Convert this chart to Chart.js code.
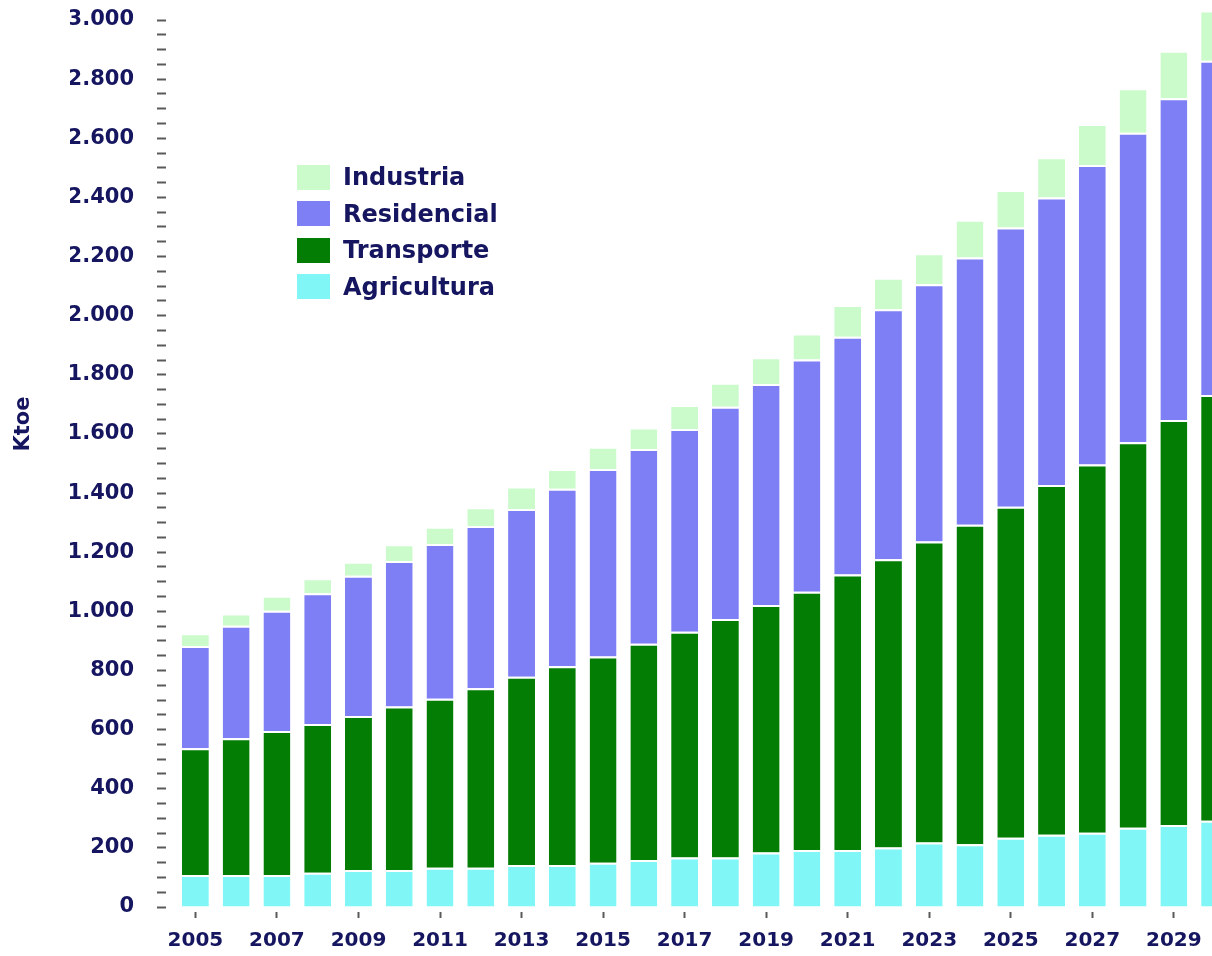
<!DOCTYPE html>
<html>
<head>
<meta charset="utf-8">
<script src="https://cdn.jsdelivr.net/npm/chart.js@4.4.1/dist/chart.umd.min.js"></script>
<style>
  html, body { margin: 0; padding: 0; background: #fff; overflow: hidden; }
  #wrap { position: relative; width: 1240px; height: 956px; }
  #legend { position: absolute; left: 297px; top: 159px; font: bold 24px "DejaVu Sans"; color: #151560; }
  #legend .item { height: 36.5px; display: flex; align-items: center; }
  #legend .box { width: 33px; height: 25px; margin-right: 13px; }
</style>
</head>
<body>
<div id="wrap">
  <canvas id="chart" width="1240" height="956"></canvas>
  <div id="legend"></div>
</div>
<script>
// data (Ktoe)
var years = [2005, 2006, 2007, 2008, 2009, 2010, 2011, 2012, 2013, 2014, 2015, 2016, 2017,
             2018, 2019, 2020, 2021, 2022, 2023, 2024, 2025, 2026, 2027, 2028, 2029, 2030];
var agricultura = [108, 108, 108, 116, 125, 125, 133, 133, 142, 142, 150, 159, 167,
                   167, 184, 193, 193, 201, 218, 212, 234, 244, 251, 268, 277, 292];
var transporte = [429, 463, 487, 503, 521, 553, 571, 607, 637, 672, 697, 731, 764,
                  807, 837, 873, 932, 975, 1018, 1081, 1120, 1183, 1246, 1304, 1370, 1440];
var residencial = [346, 380, 407, 442, 474, 492, 524, 549, 567, 601, 634, 659, 686,
                   718, 748, 786, 804, 846, 870, 904, 944, 973, 1013, 1047, 1088, 1130];
var industria = [43, 42, 51, 51, 48, 57, 58, 63, 76, 66, 76, 73, 81,
                 81, 90, 88, 107, 106, 105, 127, 127, 136, 138, 150, 161, 170];

var yMax = 3000;
var yLabelStep = 200;
var yMinorStep = 50;

var navy = '#151560';
var tickGray = '#5a5a5a';

function fmt(v) {
  return String(v).replace(/\B(?=(\d{3})+(?!\d))/g, '.');
}

var ktoeTitle = {
  id: 'ktoeTitle',
  afterDraw: function (chart) {
    var ctx = chart.ctx;
    ctx.save();
    ctx.translate(24, 424);
    ctx.rotate(-Math.PI / 2);
    ctx.font = 'bold 21px "DejaVu Sans"';
    ctx.fillStyle = navy;
    ctx.textAlign = 'center';
    ctx.textBaseline = 'middle';
    ctx.fillText('Ktoe', 0, 0);
    ctx.restore();
  }
};

function series(label, data, color) {
  return {
    label: label,
    data: data,
    backgroundColor: color,
    borderColor: '#ffffff',
    borderWidth: { top: 2, left: 0, right: 0, bottom: 0 },
    barPercentage: 0.66,
    categoryPercentage: 1,
    clip: false
  };
}

var chart = new Chart(document.getElementById('chart'), {
  type: 'bar',
  data: {
    labels: years,
    datasets: [
      series('Agricultura', agricultura, '#80f6f6'),
      series('Transporte', transporte, '#037d03'),
      series('Residencial', residencial, '#7f7ff5'),
      series('Industria', industria, '#cbfbcb')
    ]
  },
  options: {
    responsive: false,
    animation: false,
    layout: { padding: { left: 70, right: 5, top: 20, bottom: 0 } },
    plugins: {
      legend: { display: false },
      tooltip: { enabled: false }
    },
    scales: {
      x: {
        stacked: true,
        offset: true,
        border: { display: false },
        grid: {
          offset: false,
          drawOnChartArea: false,
          tickLength: 11,
          tickWidth: 2,
          tickColor: tickGray,
          tickBorderDash: [6, 5],
          tickBorderDashOffset: 6
        },
        ticks: {
          autoSkip: false,
          maxRotation: 0,
          padding: 11,
          color: navy,
          font: { family: 'DejaVu Sans', size: 20, weight: 'bold' },
          callback: function (v, i) {
            return i % 2 === 0 ? this.getLabelForValue(v) : null;
          }
        },
        afterFit: function (s) { s.height = 49; }
      },
      y: {
        stacked: true,
        min: 0,
        max: yMax,
        border: { display: false },
        grid: {
          drawOnChartArea: false,
          tickLength: 18,
          tickWidth: 2,
          tickColor: tickGray,
          tickBorderDash: [9, 9]
        },
        ticks: {
          stepSize: yMinorStep,
          maxTicksLimit: 100,
          autoSkip: false,
          padding: 23,
          color: navy,
          font: { family: 'DejaVu Sans', size: 21, weight: 'bold' },
          callback: function (v) {
            return v % yLabelStep === 0 ? fmt(v) : '';
          }
        },
        afterFit: function (s) {
          s.width = 105;
          s.paddingTop = 0;
          s.paddingBottom = 0;
        }
      }
    }
  },
  plugins: [ktoeTitle]
});

// legend, top entry first like the original
var legend = document.getElementById('legend');
chart.data.datasets.slice().reverse().forEach(function (ds) {
  var item = document.createElement('div');
  item.className = 'item';
  var box = document.createElement('span');
  box.className = 'box';
  box.style.background = ds.backgroundColor;
  var txt = document.createElement('span');
  txt.textContent = ds.label;
  item.appendChild(box);
  item.appendChild(txt);
  legend.appendChild(item);
});
</script>
</body>
</html>
